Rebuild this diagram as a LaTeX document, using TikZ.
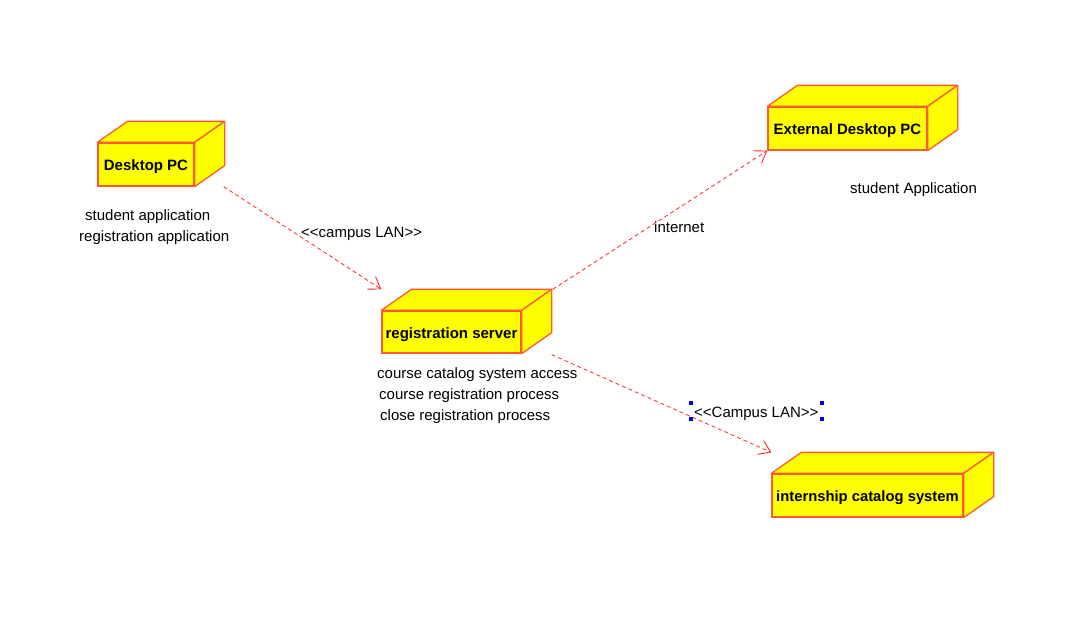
\documentclass[tikz,border=0pt]{standalone}
\usepackage{fontspec}
\setmainfont{Liberation Sans}[Ligatures=TeXOff]
\usetikzlibrary{arrows.meta,calc}
\definecolor{boxfill}{RGB}{255,255,0}
\definecolor{boxedge}{RGB}{255,90,50}
\definecolor{linkred}{RGB}{255,40,40}
\definecolor{handle}{RGB}{0,0,230}
\tikzset{
  front/.style={draw=boxedge, fill=boxfill, line width=1.3pt, rectangle, inner sep=0pt,
    text height=12pt, text depth=0pt,
    font=\fontsize{15}{17}\selectfont\bfseries},
  face/.style={draw=boxedge, fill=boxfill, line width=1.3pt, line join=round},
  link/.style={draw=linkred, line width=0.8pt, dash pattern=on 4pt off 3pt,
    -{Straight Barb[length=11pt,width=15pt,line width=0.9pt]}},
  lbl/.style={font=\fontsize{15}{17}\selectfont, inner sep=0pt, anchor=west},
  handlebox/.style={fill=handle, minimum size=3.5pt, inner sep=0pt}
}
\newcommand{\cubefaces}[1]{%
  \draw[face] (#1.north west) -- ++(30,-21) -- ($(#1.north east)+(30,-21)$) -- (#1.north east) -- cycle;
  \draw[face] (#1.north east) -- ++(30,-21) -- ($(#1.south east)+(30,-21)$) -- (#1.south east) -- cycle;
}
\begin{document}
\begin{tikzpicture}[x=1pt,y=-1pt]
\useasboundingbox (0,0) rectangle (1072,629);
\fill[white] (0,0) rectangle (1072,629);

% nodes (front faces)
\node[front, minimum width=96pt, minimum height=43pt] (dpc) at (146,164.5) {Desktop PC};
\cubefaces{dpc}
\node[front, minimum width=139pt, minimum height=42pt] (rs) at (451.5,332) {registration server};
\cubefaces{rs}
\node[front, minimum width=159pt, minimum height=43pt] (ext) at (847.5,128.5) {External Desktop PC};
\cubefaces{ext}
\node[front, minimum width=191pt, minimum height=43pt] (ics) at (867.5,495.5) {\fontsize{14.8}{17}\selectfont internship catalog system};
\cubefaces{ics}

% texts
\node[lbl] (t1) at (85,217) {student application};
\node[lbl] (t2) at (79,238) {registration application};
\node[lbl] (t3) at (850,190) {student Application};
\node[lbl] (t4) at (377,375) {course catalog system access};
\node[lbl] (t5) at (379,396) {course registration process};
\node[lbl] (t6) at (380,417) {close registration process};

% connectors
\draw[link] ($(dpc.south east)+(29,0)$) -- ($(rs.north west)+(0,-21)$);
\draw[link] ($(rs.north east)+(31,-21)$) -- (ext.south west);
\draw[link] ($(rs.south east)+(30,1)$) -- ($(ics.north west)+(0,-21)$);

% connector labels
\node[lbl] (l1) at (301,234) {<<campus LAN>>};
\node[lbl] (l2) at (654,227) {internet};
\node[lbl] (l3) at (694,414) {<<Campus LAN>>};

% selection handles
\node[handlebox] (h1) at (691,403) {};
\node[handlebox] (h2) at (822,403) {};
\node[handlebox] (h3) at (691,419) {};
\node[handlebox] (h4) at (822,419) {};
\end{tikzpicture}
\end{document}
